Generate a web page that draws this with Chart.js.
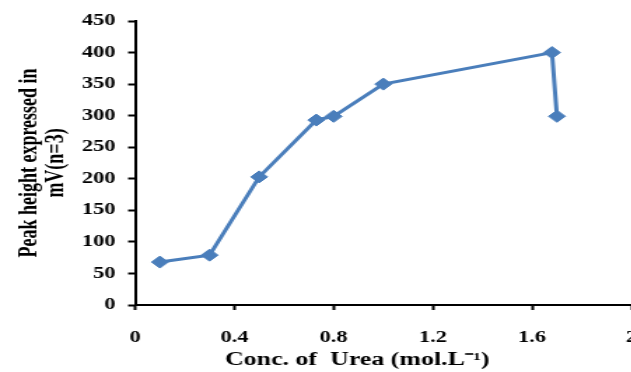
<!DOCTYPE html>
<html>
<head>
<meta charset="utf-8">
<script src="https://cdn.jsdelivr.net/npm/chart.js@4/dist/chart.umd.min.js"></script>
<style>
  html, body { margin: 0; padding: 0; background: #fff; overflow: hidden; }
  #wrap { width: 631px; height: 372px; overflow: hidden; }
  /* the source figure is stretched sideways, so the canvas is too */
  #stretch { width: 461px; height: 372px; transform: scaleX(1.4); transform-origin: 0 0; }
</style>
</head>
<body>
<div id="wrap"><div id="stretch"><canvas id="chart" width="461" height="372"></canvas></div></div>
<script>
// urea concentration (mol/L) vs peak height (mV)
const ureaConc = [0.1, 0.3, 0.5, 0.73, 0.8, 1.0, 1.68, 1.7];
const peakHeight = [68, 79, 203, 293, 299, 350, 400, 299];
const xTicks = [0, 0.4, 0.8, 1.2, 1.6, 2];
const yTicks = [0, 50, 100, 150, 200, 250, 300, 350, 400, 450];

const serif = "'Liberation Serif', 'Times New Roman', serif";
const blue = "#4A7EBB";

const ctx = document.getElementById("chart").getContext("2d");
new Chart(ctx, {
    type: "line",
    data: {
        datasets: [{
            data: ureaConc.map((x, i) => ({ x: x, y: peakHeight[i] })),
            borderColor: blue,
            backgroundColor: blue,
            borderWidth: 3,
            pointStyle: "rectRot",
            pointRadius: 6,
            pointBorderWidth: 1,
            tension: 0
        }]
    },
    options: {
        responsive: false,
        animation: false,
        layout: { padding: { top: 21, right: 10, bottom: 0, left: 0 } },
        plugins: { legend: { display: false }, tooltip: { enabled: false } },
        scales: {
            x: {
                type: "linear",
                min: xTicks[0],
                max: xTicks[xTicks.length - 1],
                afterBuildTicks: s => { s.ticks = xTicks.map(v => ({ value: v })); },
                afterFit: s => { s.height = 67; s.paddingLeft = 0; s.paddingRight = 0; },
                ticks: {
                    color: "#000",
                    padding: 18,
                    font: { family: serif, size: 16, weight: "bold" },
                    callback: v => String(v)
                },
                grid: { drawOnChartArea: false, tickLength: 5, tickColor: "#000", tickWidth: 2 },
                border: { color: "#000", width: 2 },
                title: {
                    display: true,
                    // trailing spaces pull the centred title left, as in the source
                    text: "Conc. of  Urea (mol.L\u207B\u00B9)        ",
                    color: "#000",
                    font: { family: serif, size: 18.5, weight: "bold" },
                    padding: { top: 0, bottom: 1 }
                }
            },
            y: {
                min: yTicks[0],
                max: yTicks[yTicks.length - 1],
                afterBuildTicks: s => { s.ticks = yTicks.map(v => ({ value: v })); },
                afterFit: s => { s.width = 96.5; s.paddingTop = 0; s.paddingBottom = 0; },
                ticks: {
                    color: "#000",
                    padding: 9,
                    font: { family: serif, size: 16, weight: "bold" }
                },
                grid: { drawOnChartArea: false, tickLength: 5, tickColor: "#000", tickWidth: 2 },
                border: { color: "#000", width: 2 },
                title: {
                    display: true,
                    text: ["Peak height expressed in", "mV(n=3)"],
                    color: "#000",
                    font: { family: serif, size: 18, weight: "bold", lineHeight: "19px" },
                    padding: { top: 12, bottom: 0 }
                }
            }
        }
    }
});
</script>
</body>
</html>
